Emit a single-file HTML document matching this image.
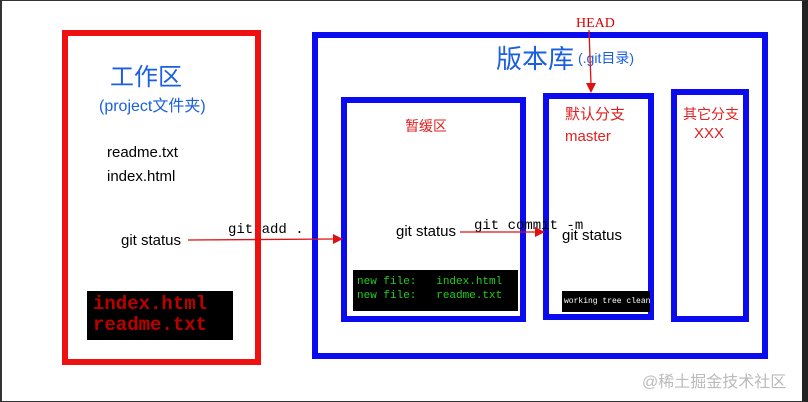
<!DOCTYPE html>
<html><head><meta charset="utf-8"><style>
body{margin:0;width:808px;height:402px;overflow:hidden;background:#fff;position:relative;font-family:"Liberation Sans","Noto Sans CJK SC",sans-serif}
.a{position:absolute}
.b{position:absolute;box-sizing:border-box}
.m{font-family:"Liberation Mono","DejaVu Sans Mono",monospace;white-space:pre}
</style></head><body>
<div class="b" style="left:0;top:0;width:808px;height:402px;border-left:2px solid #333;border-top:1px solid #333;border-bottom:1px solid #333;border-right:6px solid #222"></div>
<div class="b" style="left:62px;top:30px;width:199px;height:335px;border:6px solid #ee1111"></div>
<div class="b" style="left:312px;top:32px;width:456px;height:327px;border:6px solid #0b0bf0"></div>
<div class="b" style="left:341px;top:97px;width:185px;height:225px;border:6px solid #0b0bf0"></div>
<div class="b" style="left:543px;top:93px;width:111px;height:227px;border:6px solid #0b0bf0"></div>
<div class="b" style="left:671px;top:89px;width:78px;height:233px;border:6px solid #0b0bf0"></div>

<div class="a" style="left:110px;top:57px;font-size:24px;color:#1a5fe0">工作区</div>
<div class="a" style="left:99px;top:92px;font-size:16px;color:#1a5fe0">(project文件夹)</div>
<div class="a" style="left:107px;top:144px;font-size:15px">readme.txt</div>
<div class="a" style="left:107px;top:168px;font-size:15px">index.html</div>
<div class="a" style="left:121px;top:232px;font-size:15px">git status</div>
<div class="a m" style="left:87px;top:291px;width:146px;height:49px;background:#000;color:#b00;font-size:19px;line-height:21px;padding:3px 0 0 6px;box-sizing:border-box;font-weight:bold">index.html
readme.txt</div>

<div class="a" style="left:496px;top:39px;font-size:26px;color:#1a5fe0">版本库</div>
<div class="a" style="left:578px;top:48px;font-size:14px;color:#1a5fe0">(.git目录)</div>
<div class="a" style="left:405px;top:116px;font-size:14px;color:#e02020">暂缓区</div>
<div class="a" style="left:565px;top:103px;font-size:15px;color:#e02020">默认分支</div>
<div class="a" style="left:565px;top:128px;font-size:15px;color:#e02020">master</div>
<div class="a" style="left:683px;top:104px;font-size:14px;color:#e02020">其它分支</div>
<div class="a" style="left:694px;top:125px;font-size:15px;color:#e02020">XXX</div>
<div class="a" style="left:396px;top:223px;font-size:15px">git status</div>
<div class="a" style="left:562px;top:227px;font-size:15px">git status</div>
<div class="a m" style="left:353px;top:270px;width:165px;height:41px;background:#000;color:#22cc22;font-size:11px;line-height:14px;padding:5px 0 0 4px;box-sizing:border-box">new file:   index.html
new file:   readme.txt</div>
<div class="a m" style="left:562px;top:291px;width:88px;height:21px;background:#000;color:#fff;font-size:8px;line-height:21px;padding-left:2px;box-sizing:border-box">working tree clean</div>

<div class="a m" style="left:228px;top:222px;font-size:14px">git add .</div>
<div class="a m" style="left:474px;top:218px;font-size:14px">git commit -m</div>
<div class="a" style="left:576px;top:16px;font-size:14px;color:#d00;font-family:'Liberation Serif',serif">HEAD</div>
<svg class="a" style="left:0;top:0" width="808" height="402">
<g stroke="#e01010" stroke-width="1.3" fill="#e01010">
<line x1="188" y1="240" x2="334" y2="239"/><polygon points="343,239 333,234 333,244" stroke="none"/>
<line x1="460" y1="232" x2="537" y2="232"/><polygon points="545,232 535,227 535,237" stroke="none"/>
<line x1="589" y1="30" x2="591" y2="84"/><polygon points="591,93 586,83 596,83" stroke="none"/>
</g></svg>
<div class="a" style="left:642px;top:368px;font-size:16px;color:#bbb">@稀土掘金技术社区</div>
</body></html>
